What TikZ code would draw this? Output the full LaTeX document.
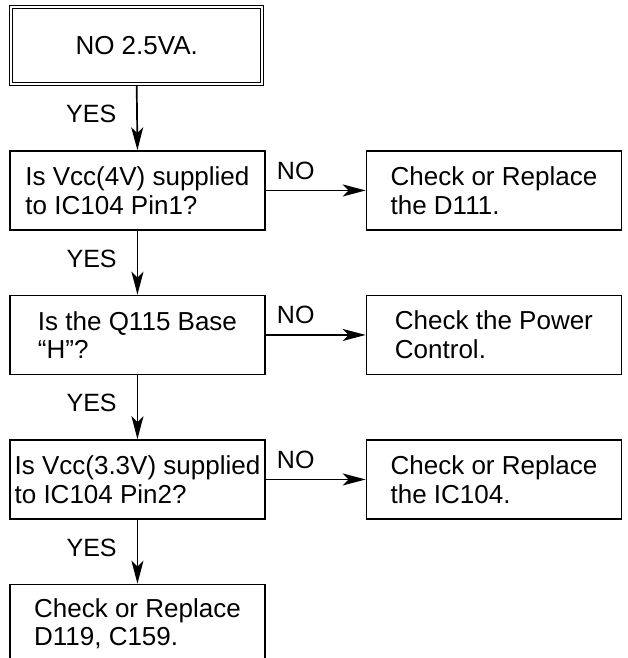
\documentclass[tikz,border=0pt]{standalone}
\usepackage{fontspec}
\setmainfont{Liberation Sans}
\usetikzlibrary{matrix,arrows.meta}

\begin{document}
\begin{tikzpicture}[
    x=1pt, y=1pt,
    every node/.style={font=\fontsize{26}{28.5}\selectfont},
    box/.style={draw, line width=1.5pt, minimum width=255pt, minimum height=79pt,
        align=left, inner sep=0pt},
    topbox/.style={draw, double, double distance=1.8pt, line width=1.1pt, align=center,
        minimum width=251pt, minimum height=77pt, outer sep=2pt},
    flow/.style={line width=1.7pt, -{Stealth[length=23pt,width=12pt,inset=6pt]}},
    tag/.style={font=\fontsize{25}{28}\selectfont, inner sep=0pt}]
    \useasboundingbox (0,0) rectangle (627,-658);
    \clip (0,0) rectangle (627,-658);

    \matrix (m) [anchor=north west, inner sep=0pt,
        column sep=100pt, row sep=64pt
    ] at (9,-5)
    {
        \node[topbox] (top) {NO 2.5VA.};                          & \\
        \node[box] (q1) {Is Vcc(4V) supplied\\to IC104 Pin1?};    & \node[box] (r1) {Check or Replace\\the D111.}; \\
        \node[box] (q2) {Is the Q115 Base\\“H”?};                 & \node[box] (r2) {Check the Power\\Control.}; \\
        \node[box] (q3) {Is Vcc(3.3V) supplied\\to IC104 Pin2?};  & \node[box] (r3) {Check or Replace\\the IC104.}; \\
        \node[box] (fix) {Check or Replace\\D119, C159.};         & \\
    };

    % YES branches
    \draw[flow] (top.south) -- node[tag, left=20pt, yshift=4pt] {YES} (q1.north);
    \draw[flow] (q1.south) -- node[tag, left=20pt, yshift=4pt] {YES} (q2.north);
    \draw[flow] (q2.south) -- node[tag, left=20pt, yshift=4pt] {YES} (q3.north);
    \draw[flow] (q3.south) -- node[tag, left=20pt, yshift=4pt] {YES} (fix.north);

    % NO branches
    \draw[flow] (q1.east) -- node[tag, above=10pt, pos=0.3] {NO} (r1.west);
    \draw[flow] (q2.east) -- node[tag, above=10pt, pos=0.3] {NO} (r2.west);
    \draw[flow] (q3.east) -- node[tag, above=10pt, pos=0.3] {NO} (r3.west);

\end{tikzpicture}
\end{document}
